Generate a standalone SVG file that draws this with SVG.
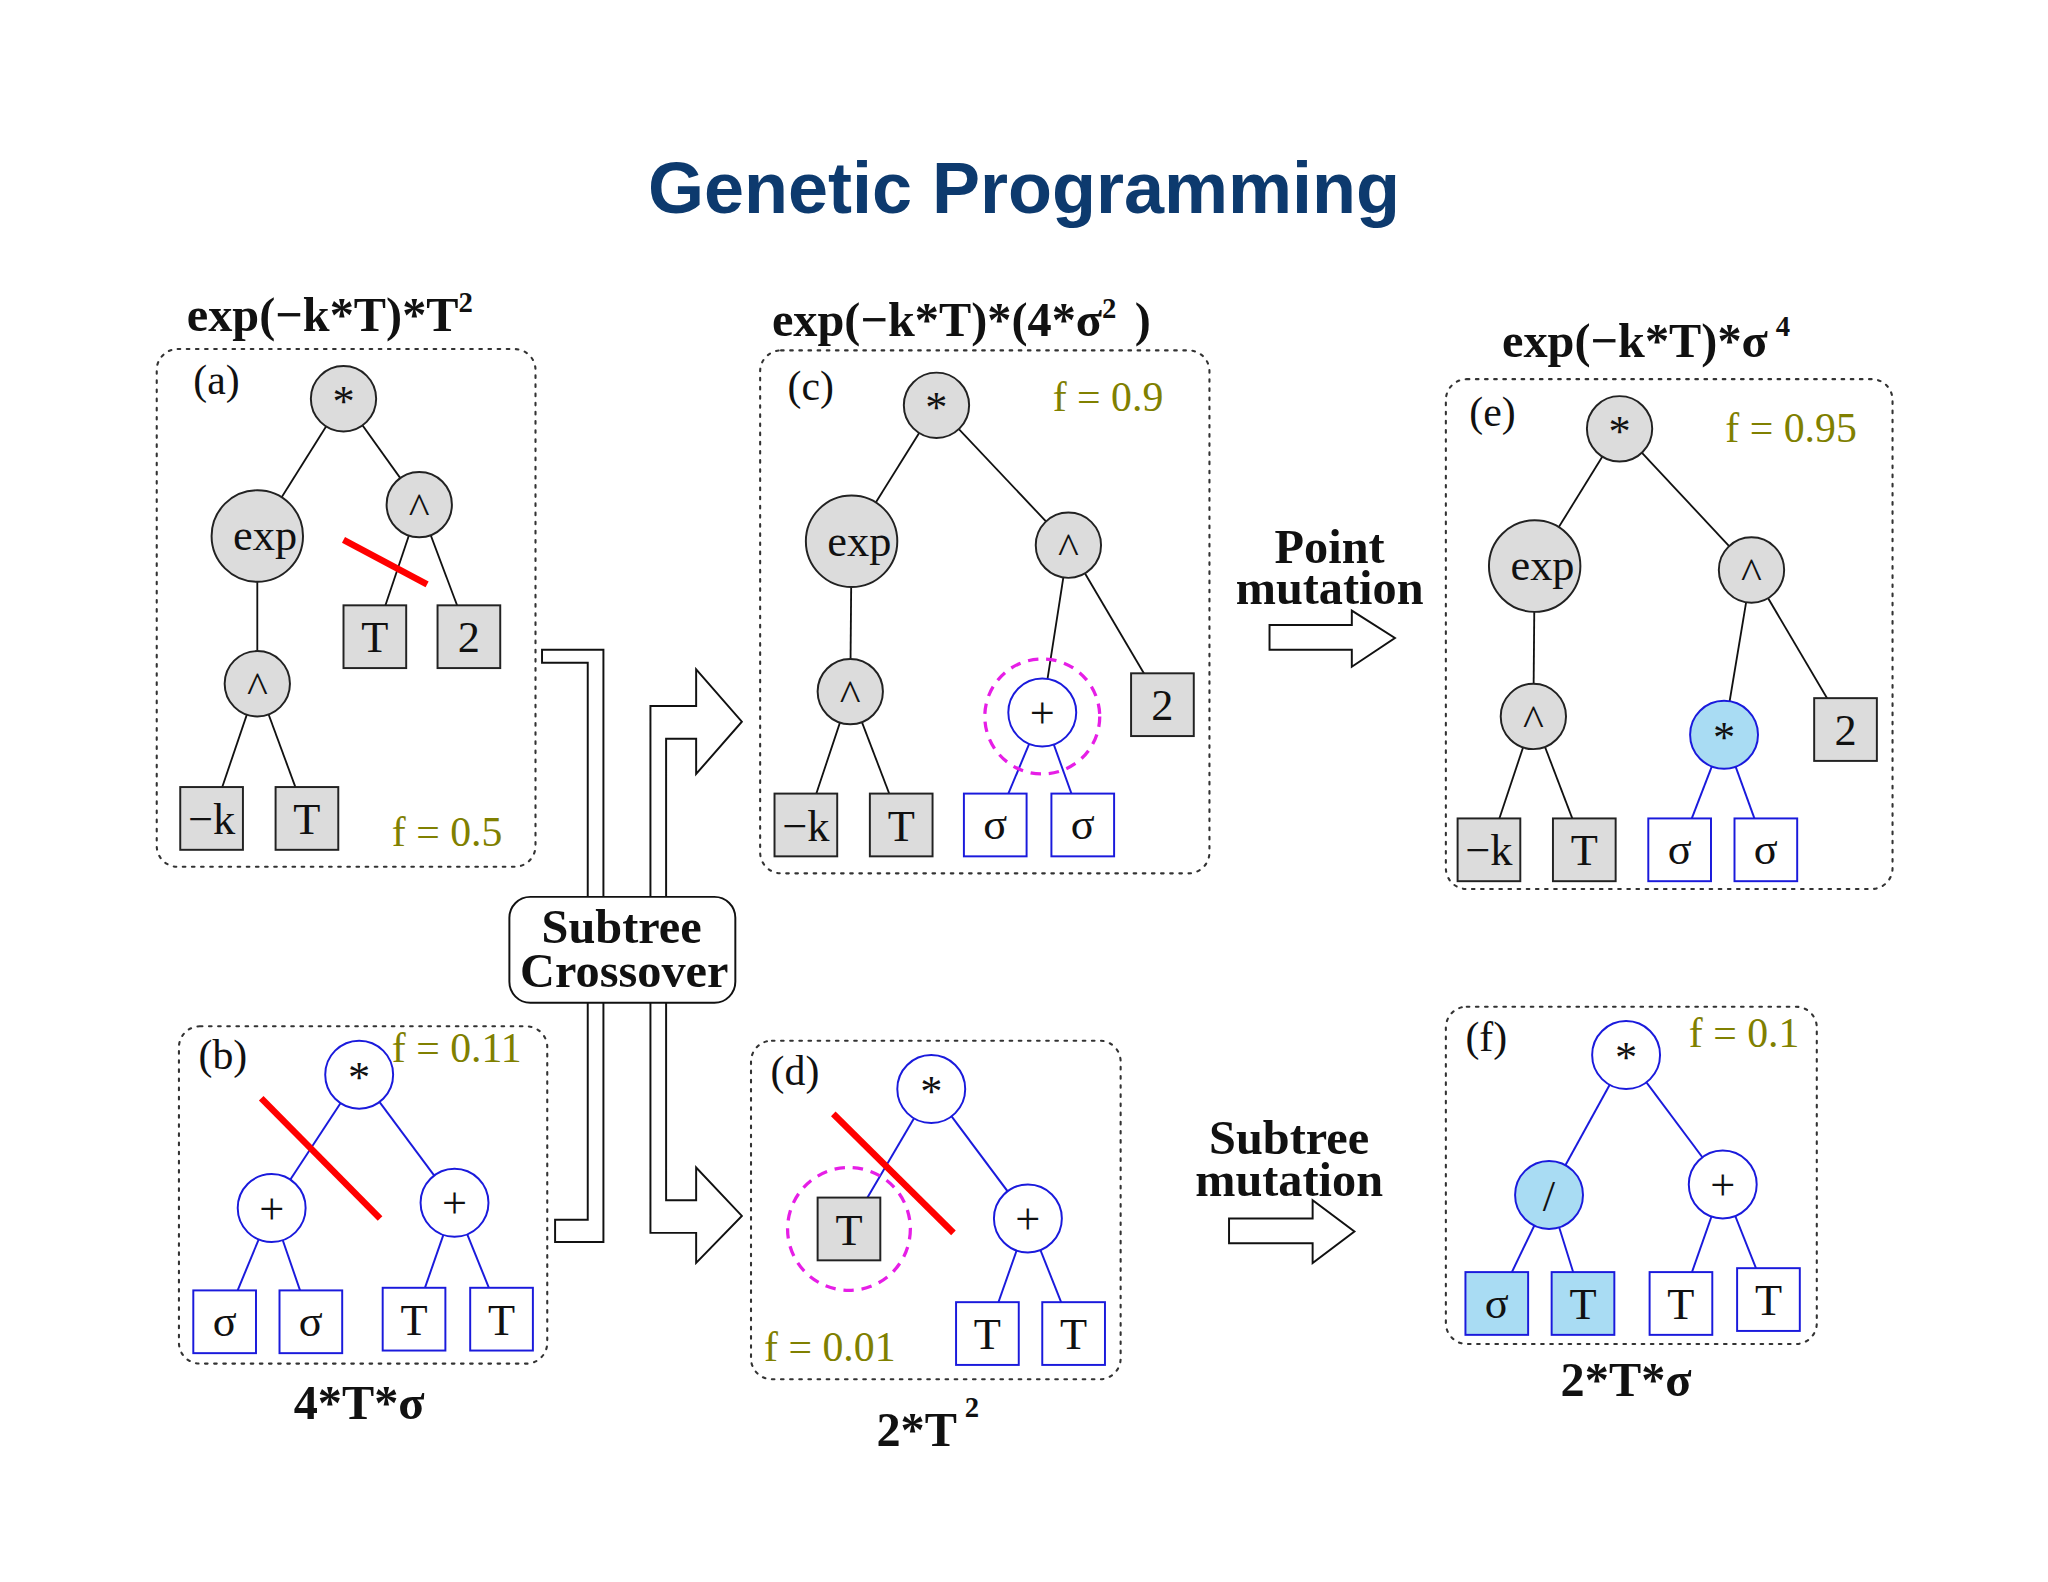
<svg xmlns="http://www.w3.org/2000/svg" width="2048" height="1582" viewBox="0 0 2048 1582">
<style>
.pn{fill:none;stroke:#333;stroke-width:1.6;stroke-dasharray:2 5;stroke-linecap:round}
.g{fill:#dcdcdc;stroke:#222;stroke-width:1.5}
.w{fill:#fff;stroke:#1a1adc;stroke-width:1.5}
.c{fill:#a9dcf3;stroke:#1a1adc;stroke-width:1.5}
.e{stroke:#111;stroke-width:1.4;fill:none}
.eb{stroke:#1a1adc;stroke-width:1.5;fill:none}
.red{stroke:#f00;stroke-width:5}
.mag{fill:none;stroke:#e61ee6;stroke-width:2.5;stroke-dasharray:8 6}
.t{font-family:"Liberation Serif",serif;font-size:34px;fill:#111;text-anchor:middle}
.lb{font-family:"Liberation Serif",serif;font-size:32px;fill:#111}
.f{font-family:"Liberation Serif",serif;font-size:32px;fill:#808000}
.h{font-family:"Liberation Serif",serif;font-size:37px;font-weight:bold;fill:#111}
.sup{font-size:22px}
.ar{fill:#fff;stroke:#111;stroke-width:1.5}
</style>
<rect width="2048" height="1582" fill="#fff"/>
<text x="1024" y="213" font-family="Liberation Sans,sans-serif" font-size="72" font-weight="bold" fill="#0d3a6e" text-anchor="middle">Genetic Programming</text>
<g transform="scale(1.3061,1.3074)">
<g id="connectors">
<line class="e" x1="263" y1="305" x2="197" y2="410"/><line class="e" x1="263" y1="305" x2="321" y2="386"/>
<line class="e" x1="197" y1="410" x2="197" y2="523"/><line class="e" x1="321" y1="386" x2="287" y2="487"/>
<line class="e" x1="321" y1="386" x2="359" y2="487"/><line class="e" x1="197" y1="523" x2="162" y2="626"/>
<line class="e" x1="197" y1="523" x2="235" y2="626"/>
<line class="eb" x1="275" y1="822" x2="208" y2="924"/><line class="eb" x1="275" y1="822" x2="348" y2="920"/>
<line class="eb" x1="208" y1="924" x2="172" y2="1011"/><line class="eb" x1="208" y1="924" x2="238" y2="1011"/>
<line class="eb" x1="348" y1="920" x2="317" y2="1009"/><line class="eb" x1="348" y1="920" x2="384" y2="1009"/>
<line class="e" x1="717" y1="310" x2="652" y2="414"/><line class="e" x1="717" y1="310" x2="818" y2="417"/>
<line class="e" x1="652" y1="414" x2="651" y2="529"/><line class="e" x1="818" y1="417" x2="798" y2="545"/>
<line class="e" x1="818" y1="417" x2="890" y2="539"/><line class="e" x1="651" y1="529" x2="617" y2="631"/>
<line class="e" x1="651" y1="529" x2="690" y2="631"/>
<line class="eb" x1="798" y1="545" x2="762" y2="631"/><line class="eb" x1="798" y1="545" x2="829" y2="631"/>
<line class="eb" x1="713" y1="833" x2="650" y2="940"/><line class="eb" x1="713" y1="833" x2="787" y2="932"/>
<line class="eb" x1="787" y1="932" x2="756" y2="1020"/><line class="eb" x1="787" y1="932" x2="822" y2="1020"/>
<line class="e" x1="1240" y1="328" x2="1175" y2="433"/><line class="e" x1="1240" y1="328" x2="1341" y2="436"/>
<line class="e" x1="1175" y1="433" x2="1174" y2="548"/><line class="e" x1="1341" y1="436" x2="1320" y2="562"/>
<line class="e" x1="1341" y1="436" x2="1413" y2="558"/><line class="e" x1="1174" y1="548" x2="1140" y2="650"/>
<line class="e" x1="1174" y1="548" x2="1213" y2="650"/>
<line class="eb" x1="1320" y1="562" x2="1286" y2="650"/><line class="eb" x1="1320" y1="562" x2="1352" y2="650"/>
<line class="eb" x1="1245" y1="807" x2="1186" y2="914"/><line class="eb" x1="1245" y1="807" x2="1319" y2="906"/>
<line class="eb" x1="1186" y1="914" x2="1146" y2="997"/><line class="eb" x1="1186" y1="914" x2="1212" y2="997"/>
<line class="eb" x1="1319" y1="906" x2="1287" y2="997"/><line class="eb" x1="1319" y1="906" x2="1354" y2="994"/>
</g>
<g id="panel-a">
<rect class="pn" x="120" y="267" width="290" height="396" rx="16"/>
<text class="h" x="143" y="253">exp(−k*T)*T<tspan class="sup" dy="-14">2</tspan></text>
<text class="lb" x="148" y="301">(a)</text>
<circle class="g" cx="263" cy="305" r="25"/><text class="t" x="263" y="318">*</text>
<circle class="g" cx="197" cy="410" r="35"/><text class="t" x="203" y="421">exp</text>
<circle class="g" cx="321" cy="386" r="25"/><text class="t" x="321" y="400">^</text>
<circle class="g" cx="197" cy="523" r="25"/><text class="t" x="197" y="537">^</text>
<rect class="g" x="263" y="463" width="48" height="48"/><text class="t" x="287" y="499">T</text>
<rect class="g" x="335" y="463" width="48" height="48"/><text class="t" x="359" y="499">2</text>
<rect class="g" x="138" y="602" width="48" height="48"/><text class="t" x="162" y="638">−k</text>
<rect class="g" x="211" y="602" width="48" height="48"/><text class="t" x="235" y="638">T</text>
<text class="f" x="300" y="647">f = 0.5</text>
<line class="red" x1="263" y1="413" x2="327" y2="447"/>
</g>
<g id="panel-b">
<rect class="pn" x="137" y="785" width="282" height="258" rx="16"/>
<text class="lb" x="152" y="818">(b)</text>
<circle class="w" cx="275" cy="822" r="26"/><text class="t" x="275" y="835">*</text>
<circle class="w" cx="208" cy="924" r="26"/><text class="t" x="208" y="936">+</text>
<circle class="w" cx="348" cy="920" r="26"/><text class="t" x="348" y="932">+</text>
<rect class="w" x="148" y="987" width="48" height="48"/><text class="t" x="172" y="1022">σ</text>
<rect class="w" x="214" y="987" width="48" height="48"/><text class="t" x="238" y="1022">σ</text>
<rect class="w" x="293" y="985" width="48" height="48"/><text class="t" x="317" y="1021">T</text>
<rect class="w" x="360" y="985" width="48" height="48"/><text class="t" x="384" y="1021">T</text>
<text class="f" x="300" y="812">f = 0.11</text>
<line class="red" x1="200" y1="840" x2="291" y2="932"/>
<text class="h" x="275" y="1085" text-anchor="middle">4*T*σ</text>
</g>
<g id="panel-c">
<rect class="pn" x="582" y="268" width="344" height="400" rx="16"/>
<text class="h" x="591" y="257">exp(−k*T)*(4*σ<tspan class="sup" dy="-14">2</tspan><tspan dy="14" dx="14">)</tspan></text>
<text class="lb" x="603" y="306">(c)</text>
<circle class="g" cx="717" cy="310" r="25"/><text class="t" x="717" y="323">*</text>
<circle class="g" cx="652" cy="414" r="35"/><text class="t" x="658" y="425">exp</text>
<circle class="g" cx="818" cy="417" r="25"/><text class="t" x="818" y="431">^</text>
<circle class="g" cx="651" cy="529" r="25"/><text class="t" x="651" y="543">^</text>
<circle class="w" cx="798" cy="545" r="26"/><text class="t" x="798" y="557">+</text>
<circle class="mag" cx="798" cy="548" r="44"/>
<rect class="g" x="866" y="515" width="48" height="48"/><text class="t" x="890" y="551">2</text>
<rect class="g" x="593" y="607" width="48" height="48"/><text class="t" x="617" y="643">−k</text>
<rect class="g" x="666" y="607" width="48" height="48"/><text class="t" x="690" y="643">T</text>
<rect class="w" x="738" y="607" width="48" height="48"/><text class="t" x="762" y="642">σ</text>
<rect class="w" x="805" y="607" width="48" height="48"/><text class="t" x="829" y="642">σ</text>
<text class="f" x="806" y="314">f = 0.9</text>
</g>
<g id="panel-d">
<rect class="pn" x="575" y="796" width="283" height="259" rx="16"/>
<text class="lb" x="590" y="830">(d)</text>
<circle class="w" cx="713" cy="833" r="26"/><text class="t" x="713" y="846">*</text>
<circle class="w" cx="787" cy="932" r="26"/><text class="t" x="787" y="944">+</text>
<rect class="g" x="626" y="916" width="48" height="48"/><text class="t" x="650" y="952">T</text>
<circle class="mag" cx="650" cy="940" r="47"/>
<rect class="w" x="732" y="996" width="48" height="48"/><text class="t" x="756" y="1032">T</text>
<rect class="w" x="798" y="996" width="48" height="48"/><text class="t" x="822" y="1032">T</text>
<line class="red" x1="638" y1="852" x2="730" y2="943"/>
<text class="f" x="585" y="1041">f = 0.01</text>
<text class="h" x="671" y="1106">2*T<tspan class="sup" dy="-22" dx="6">2</tspan></text>
</g>
<g id="panel-e">
<rect class="pn" x="1107" y="290" width="342" height="390" rx="16"/>
<text class="h" x="1150" y="273">exp(−k*T)*σ<tspan class="sup" dy="-16" dx="6">4</tspan></text>
<text class="lb" x="1125" y="326">(e)</text>
<circle class="g" cx="1240" cy="328" r="25"/><text class="t" x="1240" y="341">*</text>
<circle class="g" cx="1175" cy="433" r="35"/><text class="t" x="1181" y="444">exp</text>
<circle class="g" cx="1341" cy="436" r="25"/><text class="t" x="1341" y="450">^</text>
<circle class="g" cx="1174" cy="548" r="25"/><text class="t" x="1174" y="562">^</text>
<circle class="c" cx="1320" cy="562" r="26"/><text class="t" x="1320" y="575">*</text>
<rect class="g" x="1389" y="534" width="48" height="48"/><text class="t" x="1413" y="570">2</text>
<rect class="g" x="1116" y="626" width="48" height="48"/><text class="t" x="1140" y="662">−k</text>
<rect class="g" x="1189" y="626" width="48" height="48"/><text class="t" x="1213" y="662">T</text>
<rect class="w" x="1262" y="626" width="48" height="48"/><text class="t" x="1286" y="661">σ</text>
<rect class="w" x="1328" y="626" width="48" height="48"/><text class="t" x="1352" y="661">σ</text>
<text class="f" x="1321" y="338">f = 0.95</text>
</g>
<g id="panel-f">
<rect class="pn" x="1107" y="770" width="284" height="258" rx="16"/>
<text class="lb" x="1122" y="804">(f)</text>
<circle class="w" cx="1245" cy="807" r="26"/><text class="t" x="1245" y="820">*</text>
<circle class="c" cx="1186" cy="914" r="26"/><text class="t" x="1186" y="926">/</text>
<circle class="w" cx="1319" cy="906" r="26"/><text class="t" x="1319" y="918">+</text>
<rect class="c" x="1122" y="973" width="48" height="48"/><text class="t" x="1146" y="1008">σ</text>
<rect class="c" x="1188" y="973" width="48" height="48"/><text class="t" x="1212" y="1009">T</text>
<rect class="w" x="1263" y="973" width="48" height="48"/><text class="t" x="1287" y="1009">T</text>
<rect class="w" x="1330" y="970" width="48" height="48"/><text class="t" x="1354" y="1006">T</text>
<text class="f" x="1293" y="801">f = 0.1</text>
<text class="h" x="1245" y="1068" text-anchor="middle">2*T*σ</text>
</g>
<g id="crossover">
<path class="ar" d="M415,497 H462 V950 H425 V933 H450 V507 H415 Z"/>
<path class="ar" d="M498,943 V540 H533 V512 L568,552 L533,592 V565 H510 V918 H533 V893 L568,930 L533,966 V943 Z"/>
<rect x="390" y="686" width="173" height="81" rx="16" fill="#fff" stroke="#111" stroke-width="1.5"/>
<text class="h" x="476" y="721" text-anchor="middle" font-size="33">Subtree</text>
<text class="h" x="478" y="755" text-anchor="middle" font-size="33">Crossover</text>
</g>
<g id="point-mutation">
<text class="h" x="1018" y="431" text-anchor="middle" font-size="33">Point</text>
<text class="h" x="1018" y="462" text-anchor="middle" font-size="33">mutation</text>
<path class="ar" d="M972,478 H1035 V467 L1068,488 L1035,510 V497 H972 Z"/>
</g>
<g id="subtree-mutation">
<text class="h" x="987" y="883" text-anchor="middle" font-size="33">Subtree</text>
<text class="h" x="987" y="915" text-anchor="middle" font-size="33">mutation</text>
<path class="ar" d="M941,932 H1005 V918 L1037,942 L1005,966 V951 H941 Z"/>
</g>
</g>
</svg>
